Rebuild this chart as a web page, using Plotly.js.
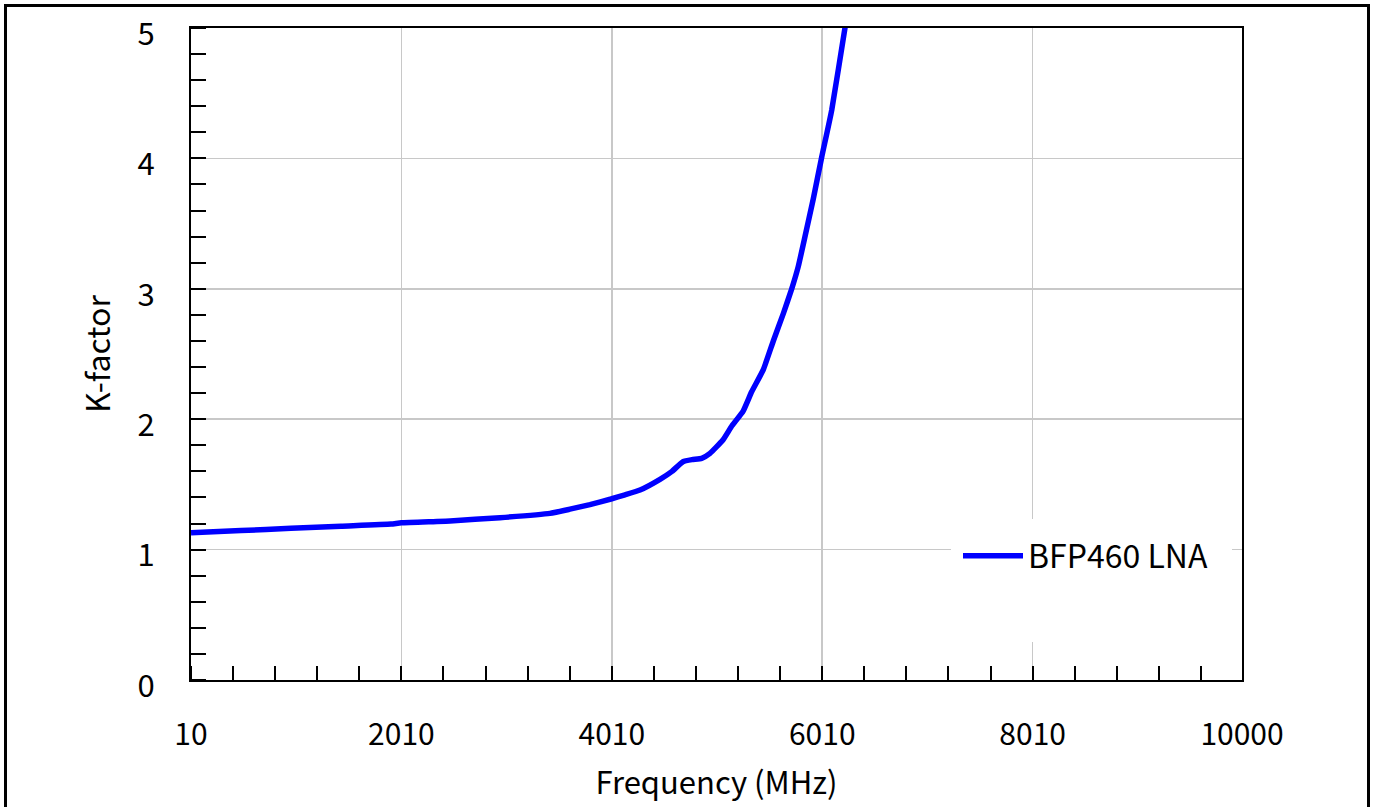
<!DOCTYPE html>
<html>
<head>
<meta charset="utf-8">
<script src="https://cdn.plot.ly/plotly-3.0.1.min.js"></script>
<style>html,body{margin:0;padding:0;background:#fff;}#chart{width:1375px;height:807px;}</style>
</head>
<body>
<div id="chart"></div>
<script>
var freqMHz = [10, 485, 960, 1436, 1911, 2010, 2472, 2947, 3422, 3612, 3802, 4002, 4135, 4278, 4468, 4582, 4686, 4772, 4864, 4943, 5066, 5152, 5257, 5339, 5450, 5545, 5640, 5720, 5782, 5846, 5925, 6005, 6100, 6226, 6293];
var kFactor = [1.13, 1.146, 1.163, 1.18, 1.196, 1.206, 1.220, 1.245, 1.278, 1.31, 1.345, 1.388, 1.42, 1.457, 1.539, 1.60, 1.674, 1.69, 1.70, 1.738, 1.84, 1.95, 2.06, 2.21, 2.38, 2.60, 2.81, 3.0, 3.17, 3.40, 3.69, 4.01, 4.37, 5.0, 5.33];
var seriesName = 'BFP460 LNA';
var xTickVals = [10, 2010, 4010, 6010, 8010, 10000];
var xTickText = ['10', '2010', '4010', '6010', '8010', '10000'];
var yTickVals = [0, 1, 2, 3, 4, 5];
var yTickText = ['0', '1', '2', '3', '4', '5'];

var FONT = '"Noto Sans CJK SC", "Source Sans Pro", "Noto Sans", sans-serif';

var trace = {
  x: freqMHz, y: kFactor, type: 'scatter', mode: 'lines', name: seriesName,
  line: {color: '#0000ff', width: 5.5, shape: 'spline', smoothing: 0.4}, showlegend: true
};

var layout = {
  width: 1375, height: 807,
  margin: {l: 191, r: 133, t: 28, b: 127},
  paper_bgcolor: '#ffffff', plot_bgcolor: '#ffffff',
  font: {family: FONT, color: '#000000', size: 30},
  showlegend: true,
  legend: {
    x: (958 - 191) / 1051, xanchor: 'left',
    y: (680 - 556) / 652, yanchor: 'middle',
    bgcolor: 'rgba(0,0,0,0)', borderwidth: 0,
    font: {family: FONT, size: 32, color: '#000'},
    itemwidth: 60
  },
  xaxis: {
    range: [10, 10000], tickmode: 'array', tickvals: xTickVals, ticktext: xTickText,
    ticks: '', showgrid: true, gridcolor: '#c8c8c8', gridwidth: 1.5, zeroline: false,
    showline: true, linecolor: '#000', linewidth: 2, mirror: true,
    tickfont: {family: FONT, size: 30, color: '#000'},
    ticklabelstandoff: 27,
    minor: {tickmode: 'linear', tick0: 10, dtick: 400, ticks: 'inside', ticklen: 14, tickwidth: 2, tickcolor: '#000', showgrid: false},
    title: {text: 'Frequency (MHz)', font: {family: FONT, size: 31, color: '#000'}, standoff: 19},
    automargin: false
  },
  yaxis: {
    range: [0, 5], tickmode: 'array', tickvals: yTickVals, ticktext: yTickText,
    ticks: '', showgrid: true, gridcolor: '#c8c8c8', gridwidth: 1.5, zeroline: false,
    showline: true, linecolor: '#000', linewidth: 2, mirror: true,
    tickfont: {family: FONT, size: 31, color: '#000'},
    ticklabelstandoff: 28, ticklabelshift: 6,
    minor: {tickmode: 'linear', tick0: 0, dtick: 0.2, ticks: 'inside', ticklen: 15, tickwidth: 2, tickcolor: '#000', showgrid: false},
    title: {text: 'K-factor', font: {family: FONT, size: 32, color: '#000'}, standoff: 17},
    automargin: false
  },
  shapes: [
    {type: 'rect', xref: 'x', yref: 'y', x0: 7234, x1: 9905, y0: 0.291, y1: 1.235,
     fillcolor: '#ffffff', line: {width: 0}, layer: 'between'},
    {type: 'rect', xref: 'paper', yref: 'paper',
     x0: (5.5 - 191) / 1051, x1: (1368.5 - 191) / 1051,
     y0: (680 - 812) / 652, y1: (680 - 5.5) / 652,
     fillcolor: 'rgba(0,0,0,0)', line: {color: '#000', width: 3}, layer: 'above'}
  ]
};

Plotly.newPlot('chart', [trace], layout, {displayModeBar: false, staticPlot: true});
</script>
</body>
</html>
